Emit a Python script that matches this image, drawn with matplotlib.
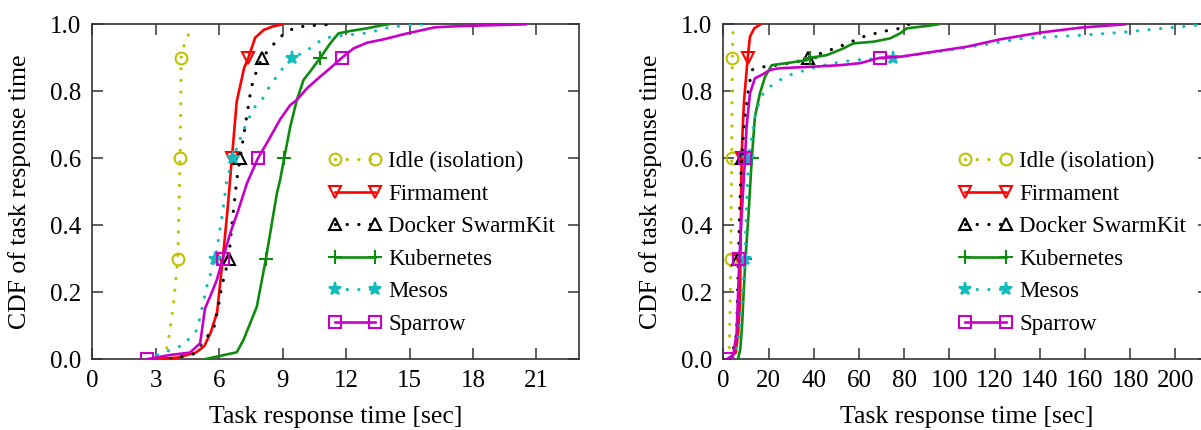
import matplotlib
matplotlib.use("Agg")
import matplotlib.pyplot as plt
from matplotlib.ticker import FormatStrFormatter

plt.rcParams['font.family'] = ['Liberation Serif', 'DejaVu Serif']

# ---------------- data (left: idle cluster) ----------------
labels = ["Idle (isolation)", "Firmament", "Docker SwarmKit", "Kubernetes", "Mesos", "Sparrow"]

idle_x = [3.4, 3.55, 3.7, 3.85, 3.95, 4.04, 4.1, 4.15, 4.18, 4.2, 4.35, 4.55, 4.65]
idle_y = [0.0, 0.04, 0.1, 0.17, 0.24, 0.3, 0.45, 0.6, 0.75, 0.9, 0.94, 0.97, 1.0]

firm_x = [2.8, 4.0, 4.9, 5.3, 5.6, 5.9, 6.17, 6.4, 6.6, 6.83, 7.18, 7.38, 7.7, 8.1, 8.5, 9.0]
firm_y = [0.0, 0.005, 0.02, 0.04, 0.08, 0.14, 0.3, 0.45, 0.6, 0.77, 0.87, 0.9, 0.96, 0.983, 0.993, 1.0]

dock_x = [3.7, 4.78, 5.33, 5.76, 5.96, 6.12, 6.45, 6.6, 6.83, 6.99, 7.31, 7.51, 7.67, 8.02, 8.41, 8.77, 9.15, 9.62, 10.15, 10.78, 11.5]
dock_y = [0.0, 0.016, 0.058, 0.097, 0.157, 0.217, 0.3, 0.4, 0.535, 0.6, 0.729, 0.809, 0.844, 0.9, 0.928, 0.955, 0.976, 0.991, 0.995, 0.998, 1.0]

kube_x = [5.3, 6.83, 7.15, 7.46, 7.78, 8.02, 8.21, 8.49, 8.73, 8.88, 9.07, 9.36, 9.67, 9.99, 10.3, 10.78, 11.25, 11.64, 12.2, 12.99, 13.77, 14.0]
kube_y = [0.0, 0.021, 0.058, 0.107, 0.157, 0.237, 0.3, 0.406, 0.496, 0.535, 0.6, 0.694, 0.774, 0.834, 0.859, 0.9, 0.943, 0.973, 0.98, 0.988, 0.998, 1.0]

meso_x = [2.57, 4.31, 4.94, 5.1, 5.41, 5.81, 5.96, 6.2, 6.36, 6.64, 7.15, 7.62, 8.02, 8.33, 8.88, 9.44, 10.07, 10.93, 11.57, 13.1, 13.8, 14.56, 15.6]
meso_y = [0.0, 0.043, 0.087, 0.127, 0.217, 0.3, 0.356, 0.456, 0.535, 0.6, 0.684, 0.749, 0.774, 0.809, 0.859, 0.9, 0.918, 0.958, 0.965, 0.975, 0.988, 0.995, 1.0]

spar_x = [2.57, 3.68, 4.62, 5.1, 5.33, 5.57, 5.89, 6.17, 6.52, 6.91, 7.31, 7.83, 8.25, 8.88, 9.36, 9.67, 10.15, 10.78, 11.25, 11.8, 12.35, 12.99, 13.77, 14.9, 16.2, 17.5, 19.3, 20.5]
spar_y = [0.0, 0.013, 0.02, 0.048, 0.152, 0.187, 0.237, 0.3, 0.376, 0.446, 0.525, 0.6, 0.645, 0.716, 0.759, 0.774, 0.809, 0.844, 0.869, 0.9, 0.928, 0.945, 0.955, 0.973, 0.991, 0.995, 0.998, 1.0]

# ---------------- data (right: loaded cluster) ----------------
idle2_x = [2.4, 2.7, 2.9, 3.1, 3.3, 3.5, 3.7, 3.85, 4.0, 4.2, 4.5]
idle2_y = [0.0, 0.05, 0.12, 0.2, 0.3, 0.45, 0.6, 0.75, 0.9, 0.96, 1.0]

firm2_x = [2.2, 5.5, 6.6, 7.4, 7.6, 7.7, 8.1, 8.6, 9.2, 10.8, 11.8, 13.7, 16.5]
firm2_y = [0.0, 0.02, 0.08, 0.177, 0.3, 0.376, 0.6, 0.694, 0.774, 0.9, 0.963, 0.988, 1.0]

dock2_x = [3.5, 5.9, 6.7, 7.4, 8.1, 9.6, 11.1, 12.6, 17.7, 23.6, 32.5, 37.6, 47.2, 53.1, 62.0, 70.0, 78.2, 82.0]
dock2_y = [0.0, 0.078, 0.3, 0.476, 0.6, 0.724, 0.804, 0.864, 0.873, 0.878, 0.888, 0.9, 0.923, 0.938, 0.963, 0.978, 0.988, 1.0]

kube2_x = [6.5, 7.5, 8.3, 9.0, 9.8, 11.1, 12.6, 14.0, 16.2, 18.5, 21.4, 28.0, 36.9, 38.4, 45.8, 53.1, 57.5, 66.4, 73.8, 78.2, 81.2, 90.0, 95.1]
kube2_y = [0.0, 0.03, 0.1, 0.2, 0.3, 0.426, 0.6, 0.724, 0.794, 0.844, 0.878, 0.884, 0.893, 0.9, 0.908, 0.928, 0.943, 0.948, 0.958, 0.973, 0.988, 0.995, 1.0]

meso2_x = [4.0, 6.5, 8.0, 9.5, 10.3, 11.1, 14.0, 16.2, 17.7, 20.7, 25.1, 29.5, 39.1, 48.7, 57.5, 75.2, 105.4, 132.6, 160.0, 176.3, 191.8, 202.0, 206.5, 213.0]
meso2_y = [0.0, 0.05, 0.15, 0.3, 0.45, 0.6, 0.724, 0.774, 0.794, 0.814, 0.834, 0.849, 0.869, 0.884, 0.893, 0.9, 0.928, 0.958, 0.968, 0.976, 0.986, 0.993, 0.995, 1.0]

spar2_x = [1.5, 4.4, 5.9, 7.1, 8.1, 9.6, 10.3, 11.8, 14.0, 17.0, 20.7, 25.1, 38.4, 51.6, 60.5, 69.3, 78.2, 92.9, 107.7, 122.4, 140.0, 158.0, 177.7]
spar2_y = [0.0, 0.013, 0.078, 0.3, 0.426, 0.6, 0.694, 0.794, 0.839, 0.849, 0.864, 0.869, 0.873, 0.878, 0.884, 0.9, 0.903, 0.918, 0.933, 0.955, 0.975, 0.99, 1.0]

left_xticks = [0, 3, 6, 9, 12, 15, 18, 21]
right_xticks = [0, 20, 40, 60, 80, 100, 120, 140, 160, 180, 200]
yticks = [0.0, 0.2, 0.4, 0.6, 0.8, 1.0]

# ---------------- styles ----------------
dot = (0, (0.05, 3.6))
styles = [
    dict(color='#c0c000', ls=dot, marker='o', mfc='none', ms=8.5, lw=2.3, dash_capstyle='round'),
    dict(color='#ff0000', ls='-', marker='v', mfc='none', ms=9, lw=1.9),
    dict(color='#000000', ls=dot, marker='^', mfc='none', ms=8.5, lw=2.3, dash_capstyle='round'),
    dict(color='#0f8c0f', ls='-', marker='+', ms=10, lw=1.9),
    dict(color='#12bcbc', ls=dot, marker='*', ms=9.5, lw=2.3, dash_capstyle='round'),
    dict(color='#c800c8', ls='-', marker='s', mfc='none', ms=8.5, lw=1.9),
]


def marks(y, first=False):
    idx = [i for i, v in enumerate(y) if v in (0.3, 0.6, 0.9)]
    if first:
        idx = [0] + idx
    return idx


W, H = 1201, 430
fig = plt.figure(figsize=(W / 100, H / 100), dpi=100)

ax1 = fig.add_axes([92.3 / W, (H - 359.3) / H, 486.4 / W, 335 / H])
ax2 = fig.add_axes([723.3 / W, (H - 359.3) / H, 486.0 / W, 335 / H])

left_series = [(idle_x, idle_y), (firm_x, firm_y), (dock_x, dock_y),
               (kube_x, kube_y), (meso_x, meso_y), (spar_x, spar_y)]
right_series = [(idle2_x, idle2_y), (firm2_x, firm2_y), (dock2_x, dock2_y),
                (kube2_x, kube2_y), (meso2_x, meso2_y), (spar2_x, spar2_y)]

for ax, series, xlim, xt in [(ax1, left_series, 23, left_xticks),
                             (ax2, right_series, 215, right_xticks)]:
    for (x, y), lab, st in zip(series, labels, styles):
        ax.plot(x, y, label=lab, markevery=marks(y, first=(lab == "Sparrow")),
                mew=1.5, zorder=3, **st)
    ax.set_xlim(0, xlim)
    ax.set_ylim(0, 1.0)
    ax.set_xticks(xt)
    ax.set_yticks(yticks)
    ax.yaxis.set_major_formatter(FormatStrFormatter('%.1f'))
    ax.tick_params(direction='in', length=8, width=1.1, color='#333333',
                   top=True, right=True, labelsize=18, pad=8)
    for sp in ax.spines.values():
        sp.set_color('#333333')
        sp.set_linewidth(1.2)
    ax.set_xlabel("Task response time [sec]", fontsize=18.5)
    ax.set_ylabel("CDF of task response time", fontsize=18.5)
    ax.yaxis.set_label_coords(-0.127, 0.5)
    ax.xaxis.set_label_coords(0.5, -0.14)
    ax.legend(loc='upper left', bbox_to_anchor=(0.484, 0.622), frameon=False,
              fontsize=16.5, numpoints=2, handlelength=2.35, handletextpad=0.3,
              labelspacing=0.5, borderpad=0, borderaxespad=0)

fig.savefig("out.png", dpi=100)
